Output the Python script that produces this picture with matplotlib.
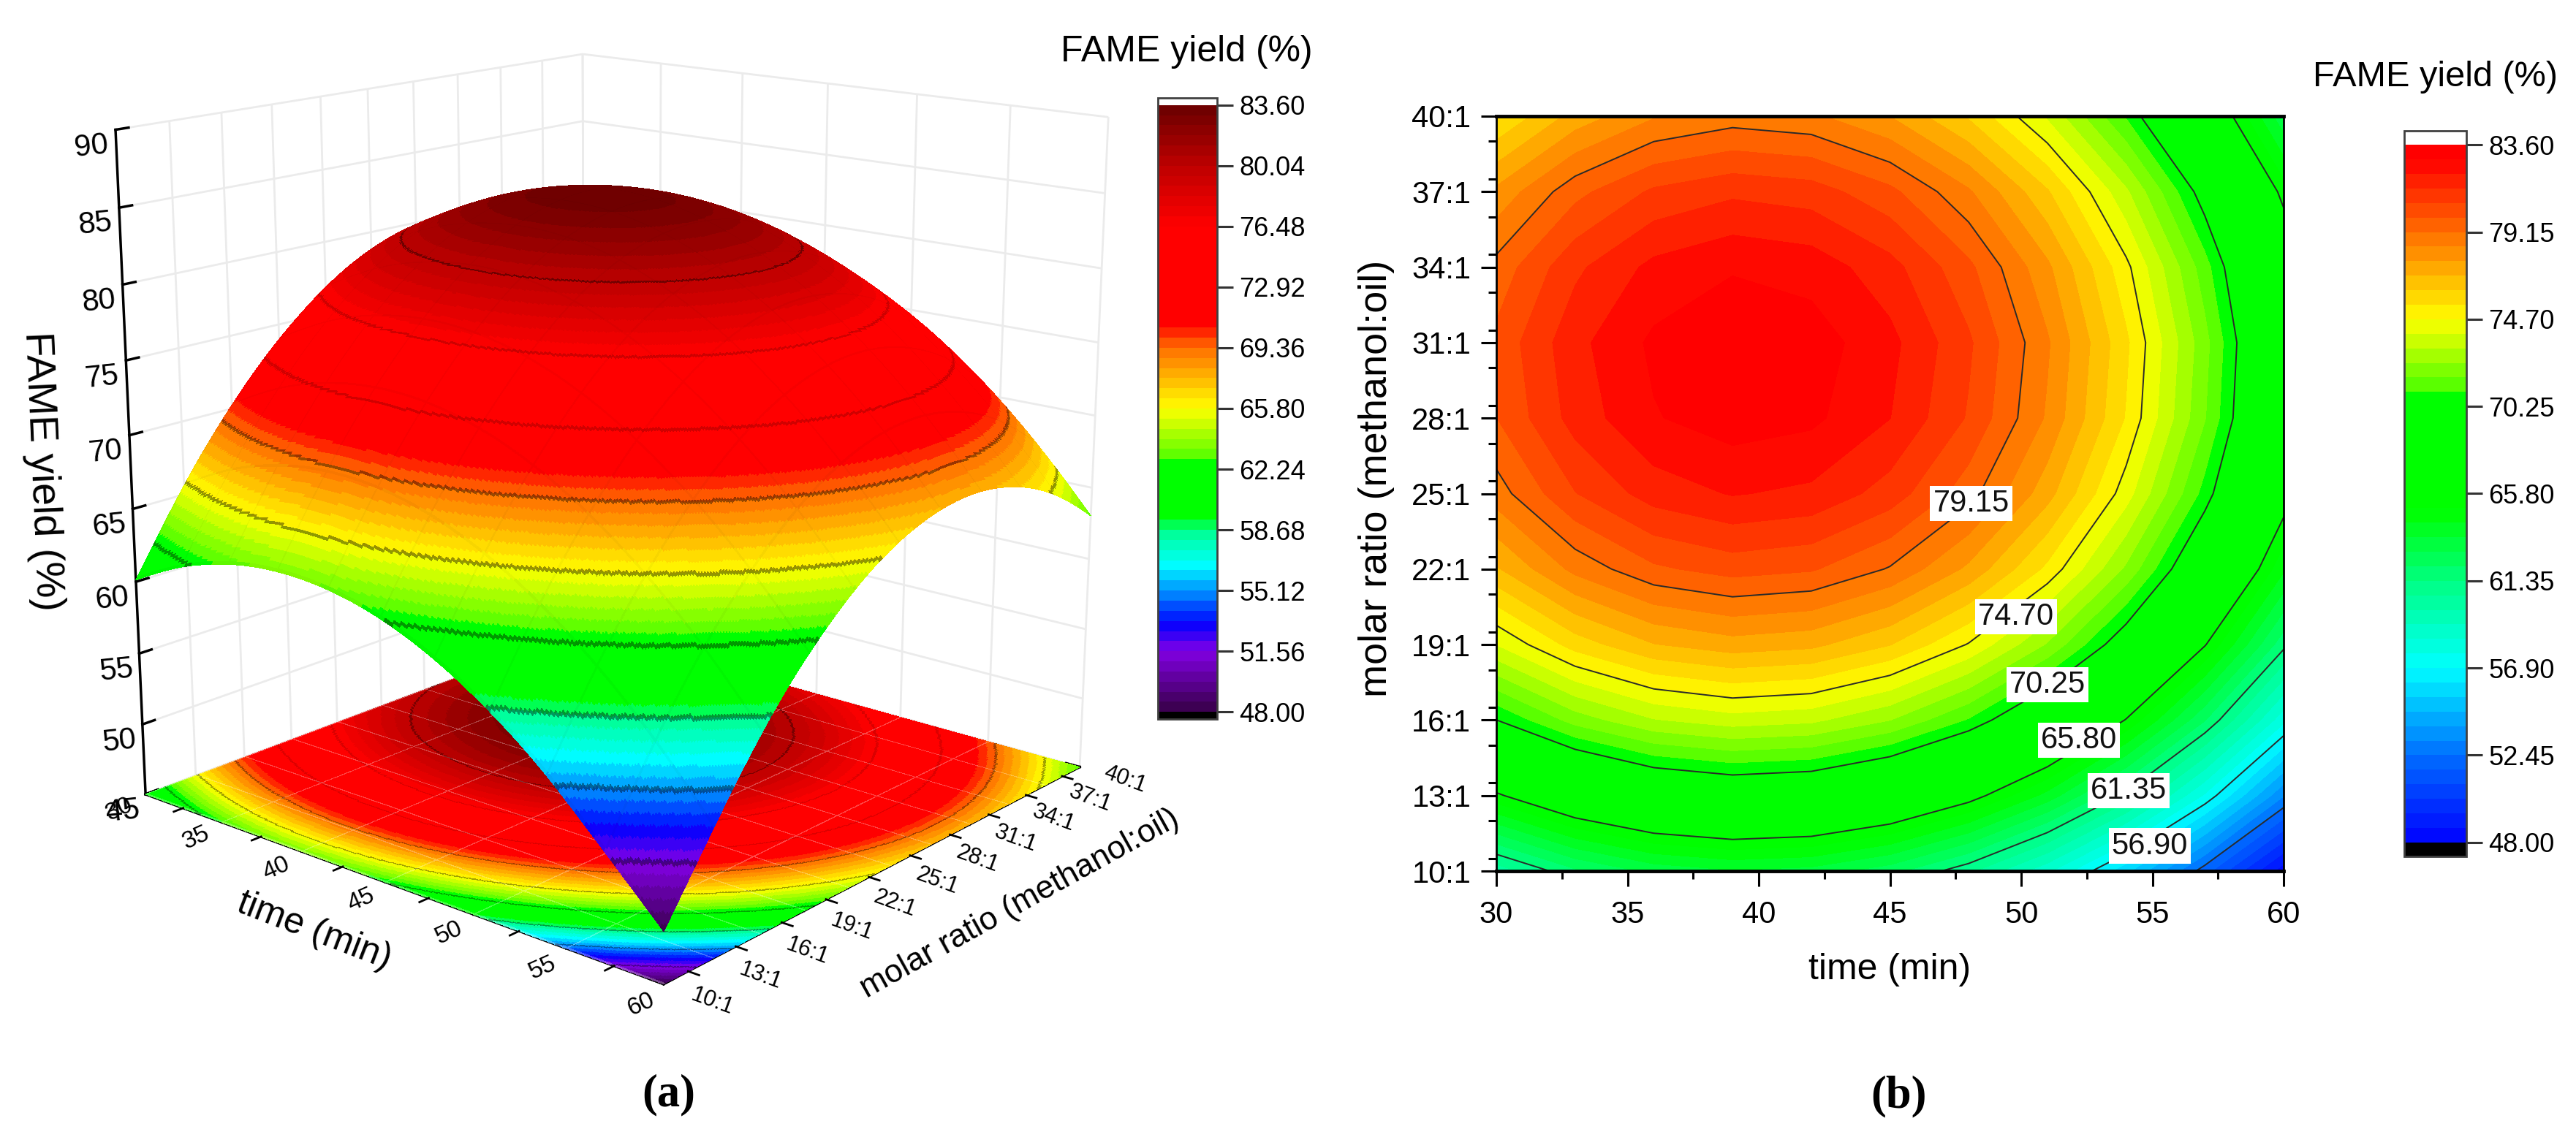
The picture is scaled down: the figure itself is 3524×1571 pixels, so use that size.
import numpy as np
import matplotlib
matplotlib.use('Agg')
import matplotlib.pyplot as plt
import matplotlib.tri as mtri
from matplotlib.colors import LinearSegmentedColormap, ListedColormap, BoundaryNorm
from matplotlib.cm import ScalarMappable
from matplotlib.ticker import MultipleLocator, NullFormatter
from mpl_toolkits.mplot3d import proj3d

plt.rcParams['font.family'] = ['Liberation Sans', 'DejaVu Sans']

W, H = 3524, 1571
time_min = [30, 33, 36, 39, 42, 45, 48, 51, 54, 57, 60]
time_ticks = [30, 35, 40, 45, 50, 55, 60]
time_minor = [32.5, 37.5, 42.5, 47.5, 52.5, 57.5]
ratio = [10, 13, 16, 19, 22, 25, 28, 31, 34, 37, 40]
ratio_minor = [11.5, 14.5, 17.5, 20.5, 23.5, 26.5, 29.5, 32.5, 35.5, 38.5]
ratio_labels = ['10:1', '13:1', '16:1', '19:1', '22:1', '25:1', '28:1', '31:1', '34:1', '37:1', '40:1']
yield_r10 = [60.13, 61.93, 63.05, 63.50, 63.28, 62.38, 60.80, 58.55, 55.63, 52.03, 48.30]
yield_r13 = [65.62, 67.42, 68.54, 68.99, 68.77, 67.87, 66.29, 64.04, 61.12, 57.52, 53.24]
yield_r16 = [70.24, 72.04, 73.16, 73.61, 73.39, 72.49, 70.91, 68.66, 65.74, 62.14, 57.86]
yield_r19 = [73.97, 75.77, 76.89, 77.34, 77.12, 76.22, 74.64, 72.39, 69.47, 65.87, 61.59]
yield_r22 = [76.83, 78.63, 79.75, 80.20, 79.98, 79.08, 77.50, 75.25, 72.33, 68.73, 64.45]
yield_r25 = [78.80, 80.60, 81.72, 82.17, 81.95, 81.05, 79.47, 77.22, 74.30, 70.70, 66.42]
yield_r28 = [79.88, 81.68, 82.80, 83.25, 83.03, 82.13, 80.55, 78.30, 75.38, 71.78, 67.50]
yield_r31 = [80.09, 81.89, 83.01, 83.46, 83.24, 82.34, 80.76, 78.51, 75.59, 71.99, 67.71]
yield_r34 = [79.41, 81.21, 82.33, 82.78, 82.56, 81.66, 80.08, 77.83, 74.91, 71.31, 67.03]
yield_r37 = [77.85, 79.65, 80.77, 81.22, 81.00, 80.10, 78.52, 76.27, 73.35, 69.75, 65.47]
yield_r40 = [75.41, 77.21, 78.33, 78.78, 78.56, 77.66, 76.08, 73.83, 70.91, 67.31, 63.03]
ticks_a = [48.00, 51.56, 55.12, 58.68, 62.24, 65.80, 69.36, 72.92, 76.48, 80.04, 83.60]
ticks_b = [48.00, 52.45, 56.90, 61.35, 65.80, 70.25, 74.70, 79.15, 83.60]
label_vals = ['79.15', '74.70', '70.25', '65.80', '61.35', '56.90']
label_t = [48.1, 49.8, 51.0, 52.2, 54.1, 54.9]
label_r = [24.6, 20.1, 17.4, 15.2, 13.2, 11.0]

T, R = np.meshgrid(time_min, ratio)
Z = np.array([yield_r10, yield_r13, yield_r16, yield_r19, yield_r22, yield_r25,
              yield_r28, yield_r31, yield_r34, yield_r37, yield_r40])


def make_cmap(anchors, n):
    lo, hi = anchors[0][0], anchors[-1][0]
    seg = [((v - lo) / (hi - lo), tuple(c / 255 for c in rgb)) for v, rgb in anchors]
    base = LinearSegmentedColormap.from_list('m', seg, N=512)
    return ListedColormap(base((np.arange(n) + 0.5) / n))


anch_a = [(48, (55, 0, 70)), (51.56, (130, 0, 230)), (53.2, (0, 0, 255)), (55.12, (0, 150, 255)),
          (56.6, (0, 255, 255)), (58.68, (0, 255, 140)), (59.3, (0, 255, 0)), (62.6, (0, 255, 0)),
          (63, (90, 255, 0)), (65.8, (255, 255, 0)), (69.36, (255, 110, 0)), (70.8, (255, 0, 0)),
          (76.48, (255, 0, 0)), (80.04, (190, 0, 0)), (83.6, (105, 0, 0))]
anch_b = [(48, (0, 0, 255)), (52.45, (0, 110, 255)), (56.9, (0, 255, 255)), (61.35, (0, 255, 130)),
          (64.9, (0, 255, 0)), (71, (0, 255, 0)), (71.2, (80, 255, 0)), (74.7, (255, 255, 0)),
          (79.15, (255, 110, 0)), (82.86, (255, 0, 0)), (83.6, (255, 0, 0))]
lev_a = np.linspace(48, 83.6, 61)
cmap_a = make_cmap(anch_a, 60)
cmap_a.set_under('black'); cmap_a.set_over('white')
norm_a = BoundaryNorm(lev_a, 60)
lev_b = np.linspace(48, 83.6, 49)
cmap_b = make_cmap(anch_b, 48)
cmap_b.set_under('black'); cmap_b.set_over('white')
norm_b = BoundaryNorm(lev_b, 48)

fig = plt.figure(figsize=(W / 100, H / 100), dpi=100, facecolor='white')


def rect(x0, y0, x1, y1):
    return [x0 / W, 1 - y1 / H, (x1 - x0) / W, (y1 - y0) / H]


def ftext(x, y, s, **kw):
    kw.setdefault('ha', 'center')
    kw.setdefault('va', 'center')
    return fig.text(x / W, 1 - y / H, s, **kw)


# ---------- 3D panel
ax = fig.add_axes(rect(39.5, 1438.2 - 1569.8, 39.5 + 1569.8, 1438.2), projection='3d', computed_zorder=False)
ax.set_facecolor('none')
ax.set_xlim(30, 60); ax.set_ylim(10, 40); ax.set_zlim(45, 90)
ax.view_init(elev=15.641, azim=-49.623)
ax.set_proj_type('persp', focal_length=0.487)
ax.set_box_aspect((1, 0.996, 0.997))

t_f = np.linspace(30, 60, 361)
r_f = np.linspace(10, 40, 361)
TF, RF = np.meshgrid(t_f, r_f)
tri = mtri.Triangulation(T.ravel().astype(float), R.ravel().astype(float))
ZF = mtri.CubicTriInterpolator(tri, Z.ravel(), kind='min_E')(TF, RF)
ZF = np.ma.filled(ZF, np.nan)
ZF = np.where(np.isnan(ZF), np.nanmean(ZF), ZF)
cell = 0.25 * (ZF[:-1, :-1] + ZF[1:, :-1] + ZF[:-1, 1:] + ZF[1:, 1:])
cmin = np.minimum.reduce([ZF[:-1, :-1], ZF[1:, :-1], ZF[:-1, 1:], ZF[1:, 1:]])
cmax = np.maximum.reduce([ZF[:-1, :-1], ZF[1:, :-1], ZF[:-1, 1:], ZF[1:, 1:]])
cols = cmap_a(norm_a(cell))

floor = cols.copy()
gmask = np.zeros_like(cell, bool)
gmask[:, ::60] = True
gmask[::36, :] = True
floor[gmask, :3] = floor[gmask, :3] * 0.72 + 0.28
surf = cols.copy()
smask = np.zeros_like(cell, bool)
smask[:, ::36] = True
smask[::36, :] = True
surf[smask, :3] *= 0.97
for lv in ticks_a:
    mask = (cmin <= lv) & (cmax > lv)
    k = 0.82 if 72 < lv < 77 else 0.6
    surf[mask, :3] *= k
    floor[mask, :3] *= k + 0.05

ax.plot_surface(TF, RF, np.full_like(ZF, 45.0), facecolors=floor, rstride=1, cstride=1, shade=False,
                linewidth=0, antialiased=False, zorder=1)
ax.plot_surface(TF, RF, ZF, facecolors=surf, rstride=1, cstride=1, shade=False,
                linewidth=0, antialiased=False, zorder=3)

for axis in (ax.xaxis, ax.yaxis, ax.zaxis):
    axis.set_pane_color((1, 1, 1, 0))
    axis._axinfo['grid'].update(color='#ebebeb', linewidth=2.0)
    axis._axinfo['tick'].update(inward_factor=0.0, outward_factor=0.3)
    axis._axinfo['tick']['linewidth'] = {True: 2.5, False: 2.0}
    axis.line.set_color('black')
    axis.line.set_linewidth(2.5)
    axis.pane.set_edgecolor('#7f7f7f')
    axis.pane.set_linewidth(2.0)
ax.zaxis.pane.set_edgecolor('none')
ax.set_xticks(time_ticks)
ax.set_yticks(ratio)
ax.xaxis.set_major_formatter(NullFormatter())
ax.yaxis.set_major_formatter(NullFormatter())
ax.xaxis.set_tick_params(label1On=False)
ax.yaxis.set_tick_params(label1On=False)
ax.zaxis.set_major_locator(MultipleLocator(5))
ax.zaxis.set_ticks_position('lower')
ax.tick_params(axis='z', which='major', labelsize=30, labelrotation=6, pad=6, width=2.5, color='k')

for tm in time_minor:
    ax.plot([tm, tm], [10, 9.45], [45, 45], color='k', lw=2, zorder=4)
for rm in ratio_minor:
    ax.plot([60, 60.55], [rm, rm], [45, 45], color='k', lw=2, zorder=4)

M3 = ax.get_proj()


def label3d(x, y, z, s, **kw):
    xp, yp, _ = proj3d.proj_transform(x, y, z, M3)
    ax.text2D(float(xp), float(yp), s, transform=ax.transData, ha='center', va='center', zorder=5, **kw)


for tv in time_ticks:
    label3d(tv + 0.5, 8.05, 45, str(tv), fontsize=24, rotation=24)
for rv, lb in zip(ratio, ratio_labels):
    label3d(62.4, rv, 45, lb, fontsize=22, rotation=-20)

ftext(57, 645, 'FAME yield (%)', fontsize=40, rotation=-87.5)
ftext(430, 1274, 'time (min)', fontsize=36, rotation=-21)
ftext(1395, 1237, 'molar ratio (methanol:oil)', fontsize=32, rotation=29)
ftext(1623, 71, 'FAME yield (%)', fontsize=36)
ftext(915, 1498, '(a)', fontsize=45, family='Liberation Serif', weight='bold')
ftext(2597, 1500, '(b)', fontsize=45, family='Liberation Serif', weight='bold')


def cbar(box, cmap, norm, ticks, frac):
    cax = fig.add_axes(rect(*box))
    cb = fig.colorbar(ScalarMappable(norm=norm, cmap=cmap), cax=cax, extend='both', extendrect=True,
                      extendfrac=frac, ticks=ticks, spacing='proportional', format='%.2f')
    cb.minorticks_off()
    cb.outline.set_linewidth(2.0)
    cb.outline.set_edgecolor('#404040')
    cax.tick_params(axis='y', labelsize=26, length=16, width=2.2, pad=6, color='#333333')
    return cb


cbar((1584, 134, 1665, 984), cmap_a, norm_a, ticks_a, 10 / 850)
cbar((3289, 179, 3374, 1172), cmap_b, norm_b, ticks_b, 20 / 993)
ftext(3331, 105, 'FAME yield (%)', fontsize=35)

# ---------- contour panel
a2 = fig.add_axes(rect(2047, 159, 3124, 1192))
a2.contourf(T, R, Z, levels=lev_b, cmap=cmap_b, norm=norm_b)
a2.contour(T, R, Z, levels=ticks_b, colors='#2a2a2a', linewidths=1.4)
a2.set_xlim(30, 60); a2.set_ylim(10, 40)
a2.set_xticks(range(30, 61, 5)); a2.xaxis.set_minor_locator(MultipleLocator(2.5))
a2.set_yticks(ratio); a2.set_yticklabels(ratio_labels); a2.yaxis.set_minor_locator(MultipleLocator(1.5))
a2.tick_params(which='major', labelsize=30, length=15, width=2.2)
a2.tick_params(which='minor', length=8, width=2.2)
a2.tick_params(axis='x', which='major', pad=14)
a2.tick_params(axis='y', which='major', pad=10)
for sp in a2.spines.values():
    sp.set_linewidth(2.0)
a2.spines['top'].set_linewidth(3.5)
a2.spines['bottom'].set_linewidth(3.5)
for s_, tt, rr in zip(label_vals, label_t, label_r):
    a2.text(tt, rr, s_, fontsize=30, ha='center', va='center', color='#111111',
            bbox=dict(facecolor='white', edgecolor='none', pad=3))
ftext(2585, 1327, 'time (min)', fontsize=36)
ftext(1883, 655, 'molar ratio (methanol:oil)', fontsize=39, rotation=90)

fig.savefig('out.png', dpi=100)
